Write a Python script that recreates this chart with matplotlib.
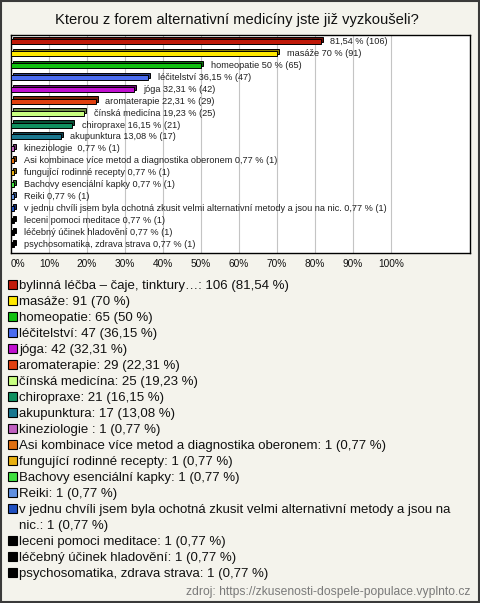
import textwrap
import numpy as np
from matplotlib import pyplot as plt
from matplotlib.colors import to_rgb
from matplotlib.patches import Rectangle

plt.rcParams['font.family'] = ['Liberation Sans', 'DejaVu Sans']

############## DATA ################

title = 'Kterou z forem alternativní medicíny jste již vyzkoušeli?'
source = 'zdroj: https://zkusenosti-dospele-populace.vyplnto.cz'

names = ['bylinná léčba – čaje, tinktury…', 'masáže', 'homeopatie', 'léčitelství',
         'jóga', 'aromaterapie', 'čínská medicína', 'chiropraxe', 'akupunktura',
         'kineziologie ', 'Asi kombinace více metod a diagnostika oberonem',
         'fungující rodinné recepty', 'Bachovy esenciální kapky', 'Reiki',
         'v jednu chvíli jsem byla ochotná zkusit velmi alternativní metody a jsou na nic.',
         'leceni pomoci meditace', 'léčebný účinek hladovění',
         'psychosomatika, zdrava strava']
counts = [106, 91, 65, 47, 42, 29, 25, 21, 17, 1, 1, 1, 1, 1, 1, 1, 1, 1]
percents = [81.54, 70, 50, 36.15, 32.31, 22.31, 19.23, 16.15, 13.08,
            0.77, 0.77, 0.77, 0.77, 0.77, 0.77, 0.77, 0.77, 0.77]
colors = ['#c01a0a', '#ffe800', '#10c010', '#4a6cf0', '#c010d0', '#e04010',
          '#c8ff80', '#109060', '#1a7890', '#c060c0', '#e07010', '#e8b010',
          '#40e040', '#6090e0', '#2050c0', '#000000', '#000000', '#000000']
xticks = [0, 10, 20, 30, 40, 50, 60, 70, 80, 90, 100]


def fmt(p):
    s = ('%.2f' % p).rstrip('0').rstrip('.')
    return s.replace('.', ',')


W, H = 480, 603
BG = '#f4f3ec'

fig = plt.figure(figsize=(W / 100, H / 100), dpi=100)
fig.patch.set_facecolor(BG)
fig.patches.append(Rectangle((1 / W, 1 / H), 1 - 2 / W, 1 - 2 / H, transform=fig.transFigure,
                             fill=False, edgecolor='#3a3a3a', linewidth=1.5))

fig.text(237 / W, 1 - 20 / H, title, ha='center', va='center', fontsize=10.6, color='#111111')

# plot area in pixels
left, right, top, bottom = 11, 470, 35, 253
ax = fig.add_axes([left / W, 1 - bottom / H, (right - left) / W, (bottom - top) / H])
ax.set_facecolor('white')
for s in ax.spines.values():
    s.set_linewidth(1)
    s.set_color('black')

px_per_pct = 3.8
ax.set_xlim(0, (right - left) / px_per_pct)
n = len(names)
row = 11.33
ax.set_ylim((n - 1) + (bottom - 245) / row, -(41 - top) / row)

for t in xticks[1:]:
    ax.axvline(t, color='#c4c4c4', linewidth=0.8, zorder=0)

# 3D-ish bars: darker back face shifted up/right, then the front face
d = 2 / px_per_pct
dy = 2 / row
h = 0.42
y = np.arange(n)
dark = [tuple(0.55 * np.array(to_rgb(c))) for c in colors]
ax.barh(y - dy, percents, left=d, height=h, color=dark, edgecolor='black', linewidth=0.7, zorder=2)
ax.barh(y, percents, height=h, color=colors, edgecolor='black', linewidth=0.7, zorder=3)

for i, (nm, p, c) in enumerate(zip(names, percents, counts)):
    if i == 0:
        lab = '%s %% (%d)' % (fmt(p), c)
    else:
        lab = '%s %s %% (%d)' % (nm, fmt(p), c)
    ax.annotate(lab, (p + d, i), xytext=(5.5, 0), textcoords='offset points',
                ha='left', va='center', fontsize=6.6, color='#202020')

ax.set_xticks(xticks)
ax.set_xticklabels(['%d%%' % t for t in xticks], fontsize=7.3, color='#111111')
ax.tick_params(axis='x', length=0, pad=4)
ax.set_yticks([])
ax.get_xticklabels()[0].set_horizontalalignment('left')

# legend list below the chart
ly = 285.7
step = 16
for nm, p, c, col in zip(names, percents, counts, colors):
    txt = '%s: %d (%s %%)' % (nm, c, fmt(p))
    lines = textwrap.wrap(txt, 76)
    fig.patches.append(Rectangle((8 / W, 1 - (ly + 3.5) / H), 9 / W, 9 / H,
                                 transform=fig.transFigure, facecolor=col,
                                 edgecolor='black', linewidth=0.8))
    for k, ln in enumerate(lines):
        fig.text(19 / W, 1 - (ly + 0.5) / H, ln, ha='left', va='center',
                 fontsize=9.5, color='#111111')
        ly += step

fig.text(470 / W, 1 - 592 / H, source, ha='right', va='center', fontsize=8.7, color='#7a7a7a')

plt.savefig('out.png', dpi=100, facecolor=fig.get_facecolor())
